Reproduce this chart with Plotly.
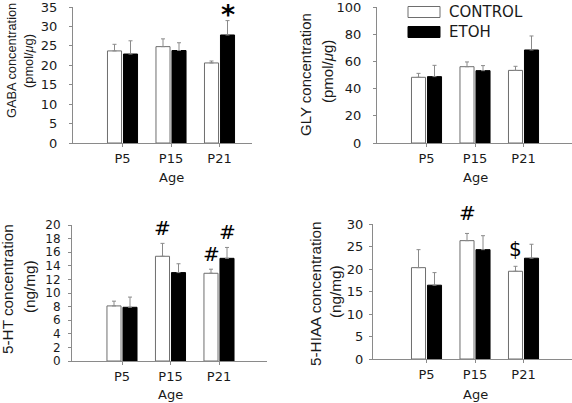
import plotly.graph_objects as go

# ---------------- data ----------------
ages = ["P5", "P15", "P21"]

gaba_control = [23.7, 24.8, 20.6]
gaba_control_err = [1.7, 2.0, 0.5]
gaba_etoh = [22.9, 23.8, 27.8]
gaba_etoh_err = [3.4, 2.0, 3.7]

gly_control = [48.3, 56.1, 53.4]
gly_control_err = [2.9, 3.5, 3.0]
gly_etoh = [48.8, 53.2, 68.4]
gly_etoh_err = [8.3, 3.7, 10.3]

ht_control = [8.1, 15.4, 12.9]
ht_control_err = [0.7, 1.9, 0.6]
ht_etoh = [7.9, 13.0, 15.1]
ht_etoh_err = [1.5, 1.3, 1.6]

hiaa_control = [20.3, 26.3, 19.5]
hiaa_control_err = [4.0, 1.6, 1.1]
hiaa_etoh = [16.4, 24.3, 22.4]
hiaa_etoh_err = [2.8, 3.1, 3.1]

series_names = ["CONTROL", "ETOH"]

# significance marks: (panel, age index, series index, symbol)
marks = [
    (0, 2, 1, "*"),
    (2, 1, 0, "#"),
    (2, 2, 0, "#"),
    (2, 2, 1, "#"),
    (3, 1, 0, "#"),
    (3, 2, 0, "$"),
]

# ---------------- layout helpers ----------------
W, H = 572, 403
WIDE = "DejaVu Sans, Verdana, sans-serif"
NARROW = "Liberation Sans, Arial, Helvetica, sans-serif"
AX = "#8a8a8a"
TXT = "#1a1a1a"

panels = [
    dict(ctrl=gaba_control, ce=gaba_control_err, et=gaba_etoh, ee=gaba_etoh_err,
         px=(73, 252), py=(7, 143), yr=35, dt=5, p5=49.5, stand=9, tfs=13,
         t1="GABA concentration", t2="(pmol/<i>μ</i>g)", ttl=12.8,
         t1pos=(12, 61), t2pos=(29, 61), agey=178),
    dict(ctrl=gly_control, ce=gly_control_err, et=gly_etoh, ee=gly_etoh_err,
         px=(377, 572), py=(7, 143), yr=100, dt=20, p5=49.5, stand=9, tfs=13,
         t1="GLY concentration", t2="(pmol/<i>μ</i>g)", ttl=15,
         t1pos=(306, 75), t2pos=(327, 72), agey=178),
    dict(ctrl=ht_control, ce=ht_control_err, et=ht_etoh, ee=ht_etoh_err,
         px=(72, 267), py=(225, 361), yr=20, dt=2, p5=50, stand=5, tfs=12,
         t1="5-HT concentration", t2="(ng/mg)", ttl=15.3,
         t1pos=(7, 289), t2pos=(29, 287), agey=394),
    dict(ctrl=hiaa_control, ce=hiaa_control_err, et=hiaa_etoh, ee=hiaa_etoh_err,
         px=(373, 572), py=(224, 359), yr=30, dt=5, p5=53.5, stand=3, tfs=13,
         t1="5-HIAA concentration", t2="(ng/mg)", ttl=15.3,
         t1pos=(315, 294), t2pos=(335, 292), agey=394),
]

SPACING = 48.5  # px per category
BAR_W = 0.29
OFFS = [-0.31, 0.02]

fig = go.Figure()
annotations = []
xpos = list(range(len(ages)))

for i, p in enumerate(panels):
    sfx = "" if i == 0 else str(i + 1)
    x0, x1 = p["px"]
    ytop, ybot = p["py"]
    r0 = -p["p5"] / SPACING
    r1 = r0 + (x1 - x0) / SPACING

    for s, (vals, errs) in enumerate([(p["ctrl"], p["ce"]), (p["et"], p["ee"])]):
        fig.add_trace(go.Bar(
            x=xpos, y=vals, width=BAR_W, offset=OFFS[s],
            name=series_names[s], showlegend=False,
            marker=dict(color="white" if s == 0 else "black",
                        line=dict(color="#6e6e6e" if s == 0 else "black", width=1)),
            error_y=dict(type="data", symmetric=False, array=errs,
                         arrayminus=[0] * len(errs), color="#8a8a8a",
                         thickness=1, width=2),
            xaxis="x" + sfx, yaxis="y" + sfx,
        ))

    fig.update_layout(**{
        "xaxis" + sfx: dict(
            domain=[x0 / W, x1 / W], range=[r0, r1], automargin=False,
            tickmode="array", tickvals=xpos, ticktext=ages,
            showline=True, linecolor=AX, linewidth=1,
            ticks="outside", ticklen=3, tickcolor=AX,
            showgrid=False, zeroline=False, anchor="y" + sfx,
            ticklabeloverflow="allow",
            tickfont=dict(family=WIDE, size=13, color=TXT),
        ),
        "yaxis" + sfx: dict(
            domain=[1 - ybot / H, 1 - ytop / H], range=[0, p["yr"]], automargin=False,
            dtick=p["dt"], tick0=0, ticklabelstandoff=p["stand"],
            showline=True, linecolor=AX, linewidth=1,
            ticks="outside", ticklen=3, tickcolor=AX,
            showgrid=False, zeroline=False, anchor="x" + sfx,
            ticklabeloverflow="allow",
            tickfont=dict(family=WIDE, size=p["tfs"], color=TXT),
        ),
    })

    for key in ("t1", "t2"):
        cx, cy = p[key + "pos"]
        annotations.append(dict(
            text=p[key], x=cx / W, y=1 - cy / H, xref="paper", yref="paper",
            textangle=-90, showarrow=False, xanchor="center", yanchor="middle",
            font=dict(family=NARROW, size=p["ttl"], color=TXT)))

    annotations.append(dict(
        text="Age", x=1, y=1 - p["agey"] / H, xref="x" + sfx, yref="paper",
        showarrow=False, xanchor="center", yanchor="middle",
        font=dict(family=WIDE, size=13, color=TXT)))

# significance marks placed above the error bars
mark_shift = {"*": 6, "#": 15, "$": 17}
mark_size = {"*": 27, "#": 20, "$": 20}
for (pi, ai, si, sym) in marks:
    p = panels[pi]
    sfx = "" if pi == 0 else str(pi + 1)
    vals = p["ctrl"] if si == 0 else p["et"]
    errs = p["ce"] if si == 0 else p["ee"]
    shift = mark_shift[sym]
    if pi == 3 and sym == "#":
        shift = 20
    annotations.append(dict(
        text="<b>*</b>" if sym == "*" else sym,
        x=ai + OFFS[si] + BAR_W / 2, y=vals[ai] + errs[ai],
        xref="x" + sfx, yref="y" + sfx, yshift=shift,
        showarrow=False, xanchor="center", yanchor="middle",
        font=dict(family=WIDE, size=mark_size[sym], color="black")))

# legend (drawn as boxes + labels in the GLY panel corner)
legend_items = [("CONTROL", "white", "#6e6e6e", 12), ("ETOH", "black", "black", 32)]
shapes = []
for name, fill, line, cy in legend_items:
    shapes.append(dict(type="rect", xref="paper", yref="paper",
                       x0=408 / W, x1=440 / W, y0=1 - (cy + 5.5) / H, y1=1 - (cy - 5.5) / H,
                       fillcolor=fill, line=dict(color=line, width=1)))
    annotations.append(dict(text=name, x=447 / W, y=1 - cy / H, xref="paper", yref="paper",
                            showarrow=False, xanchor="left", yanchor="middle",
                            font=dict(family=WIDE, size=15, color=TXT)))

fig.update_layout(
    width=W, height=H, autosize=False,
    margin=dict(l=0, r=0, t=0, b=0, autoexpand=False),
    paper_bgcolor="white", plot_bgcolor="white",
    barmode="overlay", showlegend=False,
    annotations=annotations, shapes=shapes,
    font=dict(family=WIDE, color=TXT),
)

fig.write_html(
    "out.html",
    config={"displayModeBar": False, "staticPlot": True},
    post_script="document.body.style.margin='0';document.body.style.overflow='hidden';",
)
